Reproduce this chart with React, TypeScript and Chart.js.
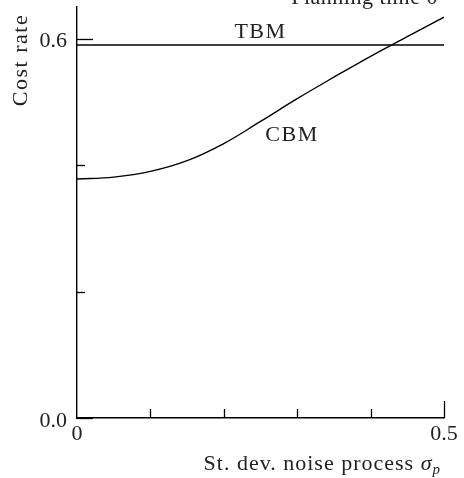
import React, { useEffect, useRef } from "react";
import { Chart, registerables } from "chart.js";

Chart.register(...registerables);

// ---- data ----
const sigmaValues = [0, 0.05, 0.1, 0.15, 0.2, 0.25, 0.3, 0.35, 0.4, 0.45, 0.5];
const cbmCost = [0.378, 0.381, 0.39, 0.407, 0.434, 0.469, 0.505, 0.539, 0.572, 0.603, 0.634];
const tbmSigma = [0, 0.5];
const tbmCost = [0.59, 0.59];

const xTickValues = [0, 0.1, 0.2, 0.3, 0.4, 0.5];
const xTickLabels = ["0", "", "", "", "", "0.5"];
const yTickValues = [0, 0.2, 0.4, 0.6];
const yTickLabels = ["0.0", "", "", "0.6"];

const xMin = 0;
const xMax = 0.5;
const yMin = 0;
const yMax = 0.65;

const titleText = "Planning time 0";
const xTitleMain = "St. dev. noise process ";
const xTitleSymbol = "σ";
const xTitleSub = "p";
const yTitle = "Cost rate";

const seriesLabels = [
  { text: "TBM", x: 0.25, y: 0.61 },
  { text: "CBM", x: 0.293, y: 0.448 },
];

const FONT = "'Liberation Serif', 'DejaVu Serif', serif";
const TEXT_COLOR = "#222";

const decorPlugin = {
  id: "decor",
  afterDraw(chart: any) {
    const ctx = chart.ctx;
    const xs = chart.scales.x;
    const ys = chart.scales.y;
    const area = chart.chartArea;
    ctx.save();
    ctx.strokeStyle = "#000";
    ctx.lineWidth = 1.3;
    // inward ticks on y axis
    yTickValues.forEach((v, i) => {
      const py = Math.round(ys.getPixelForValue(v)) + 0.5;
      const len = yTickLabels[i] ? 16 : 8;
      ctx.beginPath();
      ctx.moveTo(area.left, py);
      ctx.lineTo(area.left + len, py);
      ctx.stroke();
    });
    // inward ticks on x axis
    xTickValues.forEach((v, i) => {
      if (v === xMin) return;
      const px = Math.round(xs.getPixelForValue(v)) + 0.5;
      const len = xTickLabels[i] ? 17 : 9;
      ctx.beginPath();
      ctx.moveTo(px, area.bottom);
      ctx.lineTo(px, area.bottom - len);
      ctx.stroke();
    });

    ctx.fillStyle = TEXT_COLOR;
    // series labels
    ctx.font = `22px ${FONT}`;
    ctx.letterSpacing = "1.5px";
    ctx.textAlign = "center";
    ctx.textBaseline = "middle";
    seriesLabels.forEach((l) => {
      ctx.fillText(l.text, xs.getPixelForValue(l.x), ys.getPixelForValue(l.y));
    });

    // clipped title at top
    ctx.letterSpacing = "0.5px";
    ctx.textAlign = "right";
    ctx.textBaseline = "alphabetic";
    ctx.fillText(titleText, 438, 4);

    // x axis title with math symbol
    const baseY = 470;
    ctx.letterSpacing = "1px";
    ctx.font = `22px ${FONT}`;
    const wMain = ctx.measureText(xTitleMain).width;
    ctx.letterSpacing = "0px";
    ctx.font = `italic 22px ${FONT}`;
    const wSym = ctx.measureText(xTitleSymbol).width;
    ctx.font = `italic 15px ${FONT}`;
    const wSub = ctx.measureText(xTitleSub).width;
    const total = wMain + wSym + wSub + 1;
    let x0 = 440 - total;
    ctx.textAlign = "left";
    ctx.letterSpacing = "1px";
    ctx.font = `22px ${FONT}`;
    ctx.fillText(xTitleMain, x0, baseY);
    x0 += wMain;
    ctx.letterSpacing = "0px";
    ctx.font = `italic 22px ${FONT}`;
    ctx.fillText(xTitleSymbol, x0, baseY);
    x0 += wSym + 1;
    ctx.font = `italic 15px ${FONT}`;
    ctx.fillText(xTitleSub, x0, baseY + 4);

    // y axis title
    ctx.save();
    ctx.translate(21, 60);
    ctx.rotate(-Math.PI / 2);
    ctx.letterSpacing = "1.5px";
    ctx.font = `22px ${FONT}`;
    ctx.textAlign = "center";
    ctx.textBaseline = "middle";
    ctx.fillText(yTitle, 0, 0);
    ctx.restore();

    ctx.restore();
  },
};

export default function App() {
  const ref = useRef<HTMLCanvasElement | null>(null);

  useEffect(() => {
    if (!ref.current) return;
    const chart = new Chart(ref.current, {
      type: "line",
      data: {
        datasets: [
          {
            label: "CBM",
            data: sigmaValues.map((s, i) => ({ x: s, y: cbmCost[i] })),
            borderColor: "#000",
            borderWidth: 1.4,
            pointRadius: 0,
            tension: 0.4,
            fill: false,
          },
          {
            label: "TBM",
            data: tbmSigma.map((s, i) => ({ x: s, y: tbmCost[i] })),
            borderColor: "#000",
            borderWidth: 1.4,
            pointRadius: 0,
            fill: false,
          },
        ],
      },
      options: {
        animation: false,
        responsive: false,
        devicePixelRatio: 1,
        layout: { padding: { top: 7, right: 20, left: 0, bottom: 0 } },
        plugins: {
          legend: { display: false },
          tooltip: { enabled: false },
          title: { display: false },
        },
        scales: {
          x: {
            type: "linear",
            min: xMin,
            max: xMax,
            grid: { display: false, drawTicks: false },
            border: { display: true, color: "#000", width: 1.4 },
            ticks: {
              autoSkip: false,
              maxRotation: 0,
              padding: 3,
              color: TEXT_COLOR,
              font: { family: FONT, size: 22 },
              callback: (v: any) => {
                const i = xTickValues.findIndex((t) => Math.abs(t - Number(v)) < 1e-9);
                return i >= 0 ? xTickLabels[i] : "";
              },
            },
            afterBuildTicks: (scale: any) => {
              scale.ticks = xTickValues.map((v) => ({ value: v }));
            },
            afterFit: (scale: any) => {
              scale.height = 60;
              scale.paddingLeft = 0;
              scale.paddingRight = 0;
            },
          },
          y: {
            type: "linear",
            min: yMin,
            max: yMax,
            grid: { display: false, drawTicks: false },
            border: { display: true, color: "#000", width: 1.4 },
            ticks: {
              autoSkip: false,
              padding: 10,
              labelOffset: 3,
              color: TEXT_COLOR,
              font: { family: FONT, size: 22 },
              callback: (v: any) => {
                const i = yTickValues.findIndex((t) => Math.abs(t - Number(v)) < 1e-9);
                return i >= 0 ? yTickLabels[i] : "";
              },
            },
            afterBuildTicks: (scale: any) => {
              scale.ticks = yTickValues.map((v) => ({ value: v }));
            },
            afterFit: (scale: any) => {
              scale.width = 77;
              scale.paddingTop = 0;
              scale.paddingBottom = 0;
            },
          },
        },
      },
      plugins: [decorPlugin],
    });
    return () => chart.destroy();
  }, []);

  return (
    <div style={{ position: "absolute", left: 0, top: 0, width: 464, height: 478, background: "#fff" }}>
      <canvas ref={ref} width={464} height={478} style={{ width: 464, height: 478 }} />
    </div>
  );
}
